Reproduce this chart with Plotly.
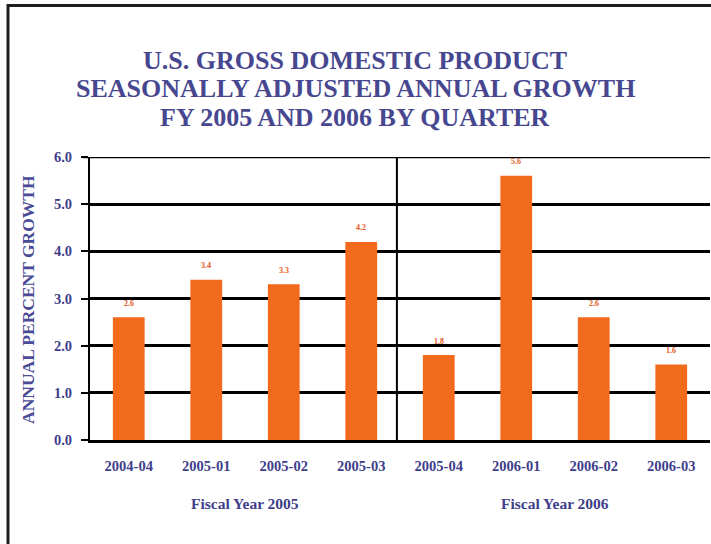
import plotly.graph_objects as go

# Quarterly real GDP growth (seasonally adjusted annual rate, %)
quarters = ["2004-04", "2005-01", "2005-02", "2005-03",
            "2005-04", "2006-01", "2006-02", "2006-03"]
growth = [2.6, 3.4, 3.3, 4.2, 1.8, 5.6, 2.6, 1.6]
fiscal_years = ["Fiscal Year 2005", "Fiscal Year 2006"]
title_lines = ["U.S. GROSS DOMESTIC PRODUCT",
               "SEASONALLY ADJUSTED ANNUAL GROWTH",
               "FY 2005 AND 2006 BY QUARTER"]
y_ticks = [0, 1, 2, 3, 4, 5, 6]

SERIF = "Liberation Serif, Times New Roman, serif"
NAVY = "#3e3e8a"
TITLE_COL = "#474790"
ORANGE = "#F26A1C"

W, H = 711, 544
L, R, T, B = 90, 1, 157, 104
PW, PH = W - L - R, H - T - B


def px_x(px):
    return (px - L) / PW


def px_y(py):
    return (H - B - py) / PH


x_idx = list(range(len(quarters)))

fig = go.Figure()
fig.add_trace(go.Bar(
    x=x_idx, y=growth, width=0.41,
    marker=dict(color=ORANGE, line=dict(width=0)),
    hoverinfo="x+y",
))

annotations = []

# value labels floating above each bar
for xi, v in zip(x_idx, growth):
    annotations.append(dict(
        text=f"<b>{v:.1f}</b>", xref="x", yref="y", x=xi, y=v,
        xanchor="center", yanchor="middle", yshift=14, showarrow=False,
        font=dict(family=SERIF, size=8, color="#E5561B")))

title_y = [60, 88.5, 117]
for line, ty in zip(title_lines, title_y):
    annotations.append(dict(
        text=f"<b>{line}</b>", xref="paper", yref="paper",
        x=px_x(355), y=px_y(ty), xanchor="center", yanchor="middle",
        showarrow=False, font=dict(family=SERIF, size=26, color=TITLE_COL)))

annotations.append(dict(
    text="<b>ANNUAL PERCENT GROWTH</b>", xref="paper", yref="paper",
    x=px_x(28), y=px_y(300), xanchor="center", yanchor="middle",
    textangle=-90, showarrow=False,
    font=dict(family=SERIF, size=17.5, color="#4a4a96")))

for i, fy in enumerate(fiscal_years):
    annotations.append(dict(
        text=f"<b>{fy}</b>", xref="x", yref="paper",
        x=1.5 + 4 * i, y=px_y(503), xanchor="center", yanchor="middle",
        showarrow=False, font=dict(family=SERIF, size=15.5, color=NAVY)))

shapes = [
    # top gridline at 6.0
    dict(type="line", xref="paper", yref="y", x0=px_x(83), x1=1, y0=6, y1=6,
         line=dict(color="black", width=2.5)),
    # divider between fiscal years
    dict(type="line", xref="x", yref="y", x0=3.46, x1=3.46, y0=0, y1=6,
         line=dict(color="black", width=2)),
    # page frame: top and left edges
    dict(type="line", xref="paper", yref="paper",
         x0=px_x(8), x1=px_x(711), y0=px_y(5.5), y1=px_y(5.5),
         line=dict(color="#1e1e1e", width=3)),
    dict(type="line", xref="paper", yref="paper",
         x0=px_x(8), x1=px_x(8), y0=px_y(4), y1=px_y(544),
         line=dict(color="#1e1e1e", width=3)),
]

fig.update_layout(
    width=W, height=H,
    margin=dict(l=L, r=R, t=T, b=B, pad=0),
    paper_bgcolor="white", plot_bgcolor="white",
    showlegend=False,
    annotations=annotations,
    shapes=shapes,
    bargap=0.5,
    xaxis=dict(
        range=[-0.5, 7.5], tickmode="array", tickvals=x_idx,
        ticktext=[f"<b>{q}</b>" for q in quarters],
        tickfont=dict(family=SERIF, size=14.5, color=NAVY),
        showline=True, linecolor="black", linewidth=3,
        ticks="", ticklabelstandoff=11, showgrid=False, zeroline=False,
        fixedrange=True,
    ),
    yaxis=dict(
        range=[0, 6], tickmode="array", tickvals=y_ticks,
        ticktext=[f"<b>{v:.1f}</b>" for v in y_ticks],
        tickfont=dict(family=SERIF, size=14.5, color=NAVY),
        showline=True, linecolor="black", linewidth=2,
        ticks="outside", ticklen=7, tickwidth=2, tickcolor="black",
        ticklabelstandoff=6,
        showgrid=True, gridcolor="black", gridwidth=2.5,
        zeroline=False, fixedrange=True,
    ),
)

fig.write_html("out.html")
